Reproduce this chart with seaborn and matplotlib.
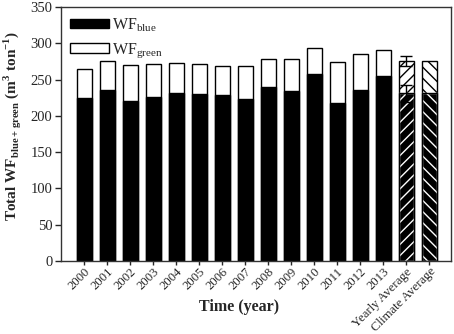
import numpy as np
import pandas as pd
import matplotlib.pyplot as plt
import matplotlib.patches as mpatches
import seaborn as sns

sns.set_style('ticks')
plt.rcParams['font.family'] = ['Liberation Serif', 'DejaVu Serif']
plt.rcParams['mathtext.fontset'] = 'custom'
plt.rcParams['mathtext.rm'] = 'Liberation Serif'
plt.rcParams['mathtext.bf'] = 'Liberation Serif:bold'
plt.rcParams['hatch.linewidth'] = 1.0

# data
categories = ['2000', '2001', '2002', '2003', '2004', '2005', '2006', '2007',
              '2008', '2009', '2010', '2011', '2012', '2013',
              'Yearly Average', 'Climate Average']
wf_blue = [224, 236, 221, 226, 231, 230, 228, 223, 240, 234, 257, 218, 235, 255, 231, 232]
wf_total = [265, 275, 270, 271, 273, 272, 268, 268, 279, 278, 293, 274, 285, 291, 276, 276]
err_total = 7
err_blue = 12

df = pd.DataFrame({'cat': categories, 'blue': wf_blue, 'total': wf_total})

fig = plt.figure(figsize=(4.54, 3.34), dpi=100)
ax = fig.add_axes([0.134, 0.219, 0.859, 0.760])

w = 0.63
sns.barplot(data=df, x='cat', y='total', color='white', edgecolor='black',
            linewidth=1.0, width=w, saturation=1, ax=ax)
sns.barplot(data=df, x='cat', y='blue', color='black', edgecolor='black',
            linewidth=1.0, width=w, saturation=1, ax=ax)

n = len(categories)
green_bars = ax.patches[:n]
blue_bars = ax.patches[n:2 * n]
hatches = {n - 2: '///', n - 1: '\\\\\\'}
for i, h in hatches.items():
    green_bars[i].set_hatch(h)
    blue_bars[i].set_hatch(h)
    blue_bars[i].set_edgecolor('white')

# outline for hatched blue parts
outline = df.copy()
outline.loc[:n - 3, 'blue'] = 0
sns.barplot(data=outline, x='cat', y='blue', fill=False, edgecolor='black',
            linewidth=1.0, width=w, ax=ax)

# error bars on the yearly average
ax.errorbar(n - 2, wf_total[n - 2], yerr=err_total, color='black',
            capsize=4, lw=1, capthick=1)
ax.errorbar(n - 2, wf_blue[n - 2], yerr=err_blue, color='black',
            capsize=4, lw=1, capthick=1)

ax.set_ylim(0, 350)
ax.set_xlim(-1.02, 15.93)
ax.set_yticks(range(0, 351, 50))
ax.tick_params(axis='y', labelsize=10.5, direction='out', length=4, width=1, pad=2)
ax.tick_params(axis='x', labelsize=9.2, direction='out', length=3, width=1, pad=0.5)
ax.set_xticks(range(n))
ax.set_xticklabels(categories, rotation=45, ha='right', rotation_mode='anchor')
for s in ax.spines.values():
    s.set_linewidth(1)
    s.set_color('#333333')

ax.set_xlabel('Time (year)', fontsize=11.5, fontweight='bold')
ax.xaxis.set_label_coords(0.456, -0.15)
ax.set_ylabel(r'Total WF$_{\mathbf{blue+green}}$ (m$^{\mathbf{3}}$ ton$^{\mathbf{-1}}$)',
              fontsize=11, fontweight='bold')
ax.yaxis.set_label_coords(-0.097, 0.53)

handles = [mpatches.Patch(facecolor='black', edgecolor='black', label=r'WF$_{\mathrm{blue}}$'),
           mpatches.Patch(facecolor='white', edgecolor='black', label=r'WF$_{\mathrm{green}}$')]
ax.legend(handles=handles, loc='upper left', frameon=False, fontsize=11.5,
          handlelength=2.4, handleheight=0.5, handletextpad=0.2,
          borderaxespad=0.2, labelspacing=0.45)

fig.savefig('out.png', dpi=100)
